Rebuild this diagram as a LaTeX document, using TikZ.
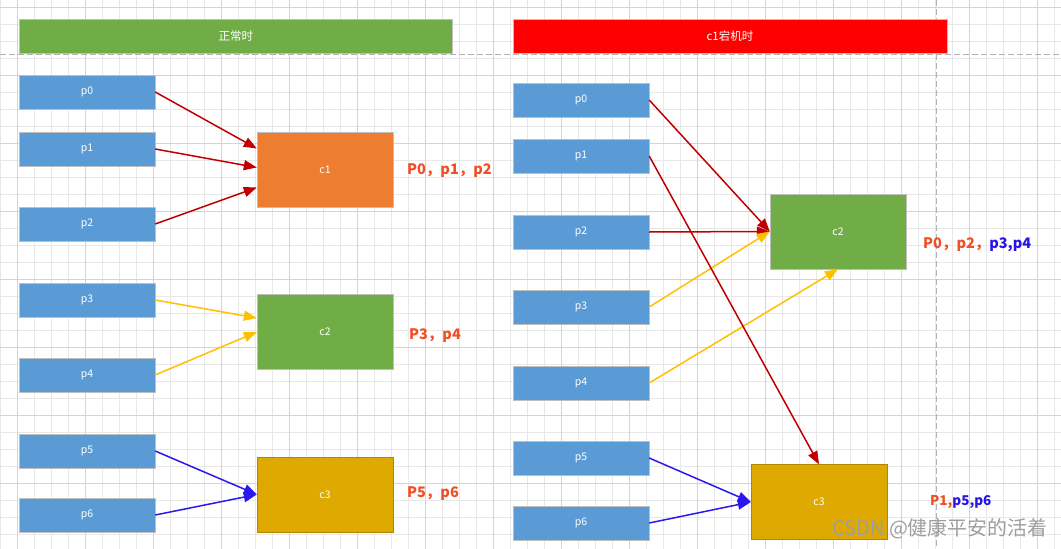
\documentclass[tikz,border=0pt]{standalone}
\usepackage{fontspec}
\setmainfont{Noto Sans CJK SC}
\usepackage{xcolor}
\usetikzlibrary{arrows.meta}
\definecolor{partblue}{RGB}{91,155,213}
\definecolor{consorange}{RGB}{237,125,49}
\definecolor{consgreen}{RGB}{112,173,71}
\definecolor{consgold}{RGB}{222,169,0}
\definecolor{downred}{RGB}{255,0,0}
\definecolor{linkred}{RGB}{192,0,0}
\definecolor{linkyellow}{RGB}{255,192,0}
\definecolor{linkblue}{RGB}{43,24,240}
\definecolor{sumred}{RGB}{240,78,35}
\definecolor{sumblue}{RGB}{40,20,230}

\tikzset{
  gridminor/.style={draw=black!9, line width=0.6pt},
  gridmajor/.style={draw=black!17, line width=0.7pt},
  pagebreak/.style={draw=black!30, line width=0.8pt, dash pattern=on 6pt off 3pt},
  headbar/.style={draw=black!25, text=white, minimum width=433pt, minimum height=34pt, inner sep=0pt, font=\fontsize{11.5}{13}\selectfont},
  partbox/.style={draw=black!25, fill=partblue, text=white, minimum width=136pt, minimum height=34pt, inner sep=0pt, font=\fontsize{10.5}{12}\selectfont},
  consbox/.style={draw=black!25, text=white, minimum width=136pt, minimum height=75pt, inner sep=0pt, font=\fontsize{10.5}{12}\selectfont},
  sumlabel/.style={text=sumred, inner sep=0pt, anchor=west, font=\fontsize{14.5}{16}\selectfont\bfseries},
  link/.style={line width=1.5pt, -{Triangle[length=13pt,width=10pt]}},
}

\begin{document}
\begin{tikzpicture}[x=1pt,y=-1pt]
  \useasboundingbox (0,0) rectangle (1061,549);
  % Grid paper
  \foreach \k in {0,...,62} \draw[gridminor] ({0.3+17*\k},0) -- ({0.3+17*\k},549);
  \foreach \k in {0,...,31} \draw[gridminor] (0,{7.5+17*\k}) -- (1061,{7.5+17*\k});
  \foreach \k in {0,...,15} \draw[gridmajor] ({17.3+68*\k},0) -- ({17.3+68*\k},549);
  \foreach \k in {0,...,7} \draw[gridmajor] (0,{7.5+68*\k}) -- (1061,{7.5+68*\k});
  \draw[pagebreak] (0,54) -- (1061,54);
  \draw[pagebreak] (936,0) -- (936,549);

  % Headers
  \node[headbar, fill=consgreen] (normal) at (235.8,36.5) {正常时};
  \node[headbar, fill=downred, minimum width=434pt] (down) at (730,36.5) {c1宕机时};

  % Normal case
  \node[partbox] (lp0) at (87,92) {p0};
  \node[partbox] (lp1) at (87,149) {p1};
  \node[partbox] (lp2) at (87,224) {p2};
  \node[partbox] (lp3) at (87,300) {p3};
  \node[partbox] (lp4) at (87,375) {p4};
  \node[partbox] (lp5) at (87,451) {p5};
  \node[partbox] (lp6) at (87,515) {p6};
  \node[consbox, fill=consorange] (lc1) at (325,169.5) {c1};
  \node[consbox, fill=consgreen] (lc2) at (325,332) {c2};
  \node[consbox, fill=consgold, draw=consgold!80!black] (lc3) at (325,494.5) {c3};

  \draw[link, linkred] (lp0.east) -- ([yshift=21pt]lc1.west);
  \draw[link, linkred] (lp1.east) -- ([yshift=2pt]lc1.west);
  \draw[link, linkred] (lp2.east) -- ([yshift=-18pt]lc1.west);
  \draw[link, linkyellow] (lp3.east) -- ([yshift=14pt]lc2.west);
  \draw[link, linkyellow] (lp4.east) -- (lc2.west);
  \draw[link, linkblue] (lp5.east) -- (lc3.west);
  \draw[link, linkblue] (lp6.east) -- (lc3.west);

  \node[sumlabel] (lsum1) at (407,170.5) {P0，p1，p2};
  \node[sumlabel] (lsum2) at (409,336) {P3，p4};
  \node[sumlabel] (lsum3) at (407,494) {P5，p6};

  % c1 down
  \node[partbox] (rp0) at (581,100) {p0};
  \node[partbox] (rp1) at (581,156) {p1};
  \node[partbox] (rp2) at (581,232) {p2};
  \node[partbox] (rp3) at (581,307) {p3};
  \node[partbox] (rp4) at (581,383) {p4};
  \node[partbox] (rp5) at (581,458) {p5};
  \node[partbox] (rp6) at (581,523) {p6};
  \node[consbox, fill=consgreen] (rc2) at (838,231.5) {c2};
  \node[consbox, fill=consgold, draw=consgold!80!black] (rc3) at (819,502) {c3};

  \draw[link, linkred] (rp0.east) -- (rc2.west);
  \draw[link, linkred] (rp2.east) -- (rc2.west);
  \draw[link, linkyellow] (rp3.east) -- (rc2.west);
  \draw[link, linkyellow] (rp4.east) -- (rc2.south);
  \draw[link, linkred] (rp1.east) -- (rc3.north);
  \draw[link, linkblue] (rp5.east) -- (rc3.west);
  \draw[link, linkblue] (rp6.east) -- (rc3.west);

  \node[sumlabel] (rsum2) at (923,245) {P0，p2，\textcolor{sumblue}{p3,p4}};
  \node[sumlabel, font=\fontsize{13.5}{16}\selectfont\bfseries] (rsum3) at (930,502) {P1,\textcolor{sumblue}{p5,p6}};

  % Watermark
  \node[anchor=west, inner sep=0pt, text=black!38, font=\fontsize{20}{22}\selectfont] (mark) at (832,529) {CSDN @健康平安的活着};
\end{tikzpicture}
\end{document}
